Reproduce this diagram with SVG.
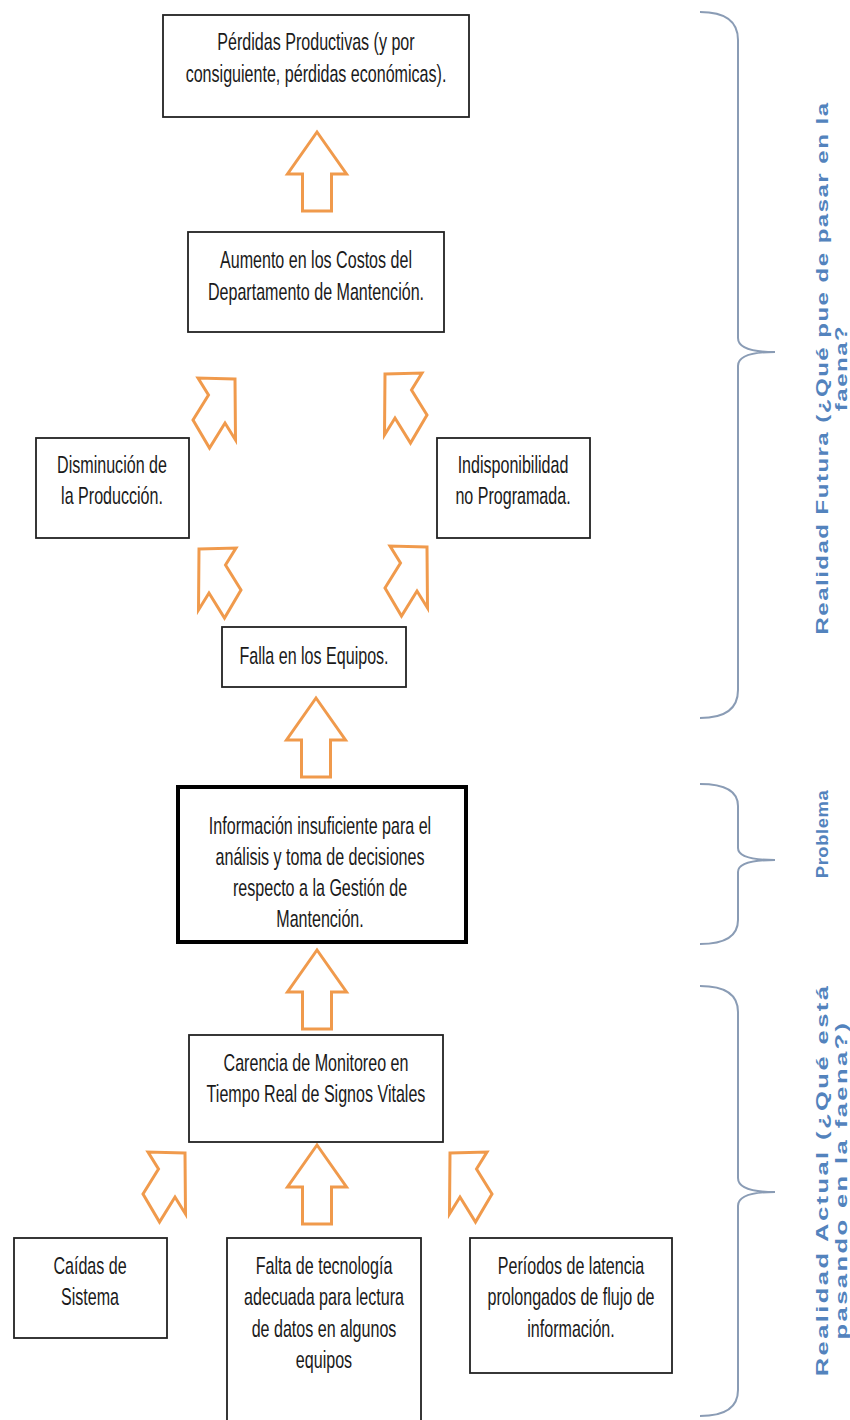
<svg xmlns="http://www.w3.org/2000/svg" width="850" height="1420" viewBox="0 0 850 1420">
<style>
.box{fill:#fff;stroke:#222;stroke-width:1.8}
.box.main{stroke:#000;stroke-width:4}
.t{font-family:"Liberation Sans",Arial,sans-serif;font-size:24px;fill:#1a1a1a;text-anchor:middle}
.s{font-family:"Liberation Sans",Arial,sans-serif;font-weight:bold;font-size:16px;fill:#5383bd;text-anchor:middle;letter-spacing:1px}
.arr{fill:#fff;stroke:#f09a4c;stroke-width:3;stroke-linejoin:miter}
.brace{fill:none;stroke:#8a9cb5;stroke-width:2}
</style>
<defs>
<path id="up" class="arr" d="M0,0 L29.5,42 L14.5,42 L14.5,79 L-14.5,79 L-14.5,42 L-29.5,42 Z"/>
<path id="ul" class="arr" d="M0,0 L37,-1 L26.5,16 L42,41 L25.5,69 L10,44 L-0.5,61 Z"/>
</defs>
<rect width="850" height="1420" fill="#fff"/>

<g id="connectors">
<use href="#up" x="317" y="132"/>
<use href="#ul" transform="translate(235,379) scale(-1,1)"/>
<use href="#ul" transform="translate(385,374)"/>
<use href="#ul" transform="translate(199,549)"/>
<use href="#ul" transform="translate(427,547) scale(-1,1)"/>
<use href="#up" x="316" y="698"/>
<use href="#up" x="317" y="950"/>
<use href="#up" x="317" y="1145"/>
<use href="#ul" transform="translate(185,1153) scale(-1,1)"/>
<use href="#ul" transform="translate(450,1153)"/>
</g>

<g id="n-perdidas">
<rect class="box" x="163" y="15" width="306" height="102"/>
<text class="t" transform="translate(316,0) scale(0.67,1)"><tspan x="0" y="50">Pérdidas Productivas (y por</tspan><tspan x="0" y="82">consiguiente, pérdidas económicas).</tspan></text>
</g>
<g id="n-aumento">
<rect class="box" x="188" y="232" width="256" height="100"/>
<text class="t" transform="translate(316,0) scale(0.67,1)"><tspan x="0" y="268">Aumento en los Costos del</tspan><tspan x="0" y="300">Departamento de Mantención.</tspan></text>
</g>
<g id="n-disminucion">
<rect class="box" x="36" y="438" width="153" height="100"/>
<text class="t" transform="translate(112,0) scale(0.67,1)"><tspan x="0" y="473">Disminución de</tspan><tspan x="0" y="504">la Producción.</tspan></text>
</g>
<g id="n-indisponibilidad">
<rect class="box" x="437" y="438" width="153" height="100"/>
<text class="t" transform="translate(513,0) scale(0.67,1)"><tspan x="0" y="473">Indisponibilidad</tspan><tspan x="0" y="504">no Programada.</tspan></text>
</g>
<g id="n-falla">
<rect class="box" x="222" y="627" width="184" height="60"/>
<text class="t" transform="translate(314,0) scale(0.67,1)"><tspan x="0" y="664">Falla en los Equipos.</tspan></text>
</g>
<g id="n-problema">
<rect class="box main" x="178" y="787" width="288" height="155"/>
<text class="t" transform="translate(320,0) scale(0.67,1)"><tspan x="0" y="834">Información insuficiente para el</tspan><tspan x="0" y="865">análisis y toma de decisiones</tspan><tspan x="0" y="896">respecto a la Gestión de</tspan><tspan x="0" y="927">Mantención.</tspan></text>
</g>
<g id="n-carencia">
<rect class="box" x="189" y="1035" width="254" height="107"/>
<text class="t" transform="translate(316,0) scale(0.67,1)"><tspan x="0" y="1071">Carencia de Monitoreo en</tspan><tspan x="0" y="1102">Tiempo Real de Signos Vitales</tspan></text>
</g>
<g id="n-caidas">
<rect class="box" x="14" y="1238" width="153" height="100"/>
<text class="t" transform="translate(90,0) scale(0.67,1)"><tspan x="0" y="1274">Caídas de</tspan><tspan x="0" y="1305">Sistema</tspan></text>
</g>
<g id="n-falta">
<rect class="box" x="227" y="1238" width="194" height="200"/>
<text class="t" transform="translate(324,0) scale(0.67,1)"><tspan x="0" y="1274">Falta de tecnología</tspan><tspan x="0" y="1305">adecuada para lectura</tspan><tspan x="0" y="1337">de datos en algunos</tspan><tspan x="0" y="1368">equipos</tspan></text>
</g>
<g id="n-periodos">
<rect class="box" x="470" y="1238" width="202" height="135"/>
<text class="t" transform="translate(571,0) scale(0.67,1)"><tspan x="0" y="1274">Períodos de latencia</tspan><tspan x="0" y="1305">prolongados de flujo de</tspan><tspan x="0" y="1337">información.</tspan></text>
</g>

<g id="brace-futura">
<path class="brace" d="M700,12 Q738,12 738,40 L738,338 Q738,352 775,352 Q738,352 738,366 L738,690 Q738,718 700,718"/>
<text class="s" transform="translate(828,368) scale(1,1.5) rotate(-90)"><tspan x="0" y="0">Realidad Futura (¿Qué  pue de pasar en la</tspan><tspan x="0" y="19">faena?</tspan></text>
</g>
<g id="brace-problema">
<path class="brace" d="M700,784 Q738,784 738,806 L738,848 Q738,860 775,860 Q738,860 738,872 L738,920 Q738,944 700,944"/>
<text class="s" transform="translate(828,834) scale(1,1.15) rotate(-90)" style="letter-spacing:0.5px"><tspan x="0" y="0">Problema</tspan></text>
</g>
<g id="brace-actual">
<path class="brace" d="M700,986 Q738,986 738,1012 L738,1178 Q738,1192 775,1192 Q738,1192 738,1206 L738,1390 Q738,1416 700,1416"/>
<text class="s" transform="translate(828,1180) scale(1,1.6) rotate(-90)" style="letter-spacing:1.5px"><tspan x="0" y="0">Realidad Actual (¿Qué  está</tspan><tspan x="0" y="19">pasando en la faena?)</tspan></text>
</g>
</svg>
